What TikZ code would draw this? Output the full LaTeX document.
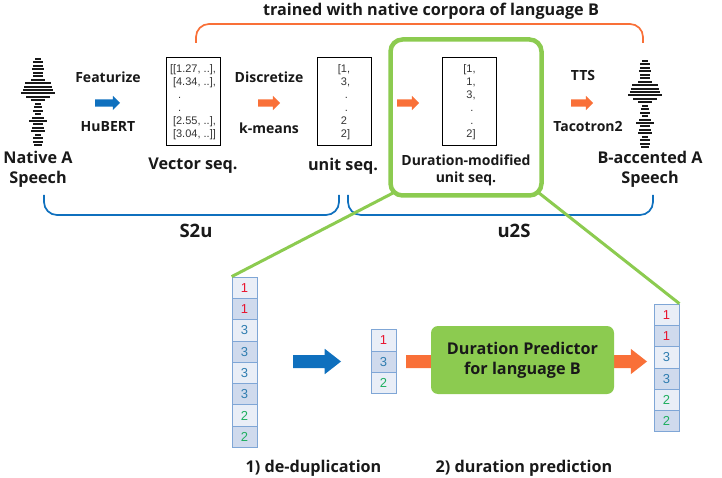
\documentclass[tikz,border=0pt]{standalone}
\usepackage{fontspec}
\setmainfont{Open Sans}
\newfontfamily\boxfont{Liberation Sans}
\usetikzlibrary{shapes.arrows}
\definecolor{mapblue}{HTML}{0F70BE}
\definecolor{maporange}{HTML}{F97038}
\definecolor{mapgreen}{HTML}{8CCB50}
\definecolor{cellline}{HTML}{7FA6D6}
\definecolor{celllight}{HTML}{E9EEF7}
\definecolor{celldark}{HTML}{CFDAED}
\definecolor{unitred}{HTML}{E8152F}
\definecolor{unitblue}{HTML}{2F7DB0}
\definecolor{unitgreen}{HTML}{1FAF5F}
\tikzset{
    label/.style={font=\bfseries\fontsize{14}{17.5}\selectfont, align=center, inner sep=0pt, text=black!90},
    biglabel/.style={font=\bfseries\fontsize{16.2}{20}\selectfont, align=center, inner sep=0pt, text=black!90},
    seglabel/.style={font=\bfseries\fontsize{18.5}{20}\selectfont, align=center, inner sep=0pt, text=black!90},
    seqbox/.style={draw=black, line width=1pt, minimum width=54pt, minimum height=88pt, inner sep=0pt,
        font=\boxfont\fontsize{11}{12.9}\selectfont, align=left, text=black!80},
    blockarrow/.style={single arrow, outer sep=0pt, draw=none, anchor=tail},
    smallarrow/.style={blockarrow, inner sep=3.5pt, single arrow head extend=3.5pt, minimum height=25pt},
    bigarrow/.style={blockarrow, inner sep=6.3pt, single arrow head extend=6.2pt, minimum height=48pt, single arrow tip angle=76},
    cell/.style={draw=cellline, line width=.8pt, minimum width=25pt, minimum height=21.3pt, inner sep=0pt,
        font=\boxfont\fontsize{13}{13}\selectfont},
    bracket/.style={line width=1.7pt, rounded corners=13pt},
    wavepic/.pic={
        \foreach \dy/\hw in {0/3,3.4/5,6.9/5,10.3/6,13.8/5,17.2/5,20.7/7,24.1/13,27.6/14,31/15,34.4/17,37.9/12,41.3/7,
            44.8/3,48.2/4,51.7/5,55.1/3,58.6/6,62/9,65.4/5,68.9/6,72.3/7,75.8/3,79.2/5,82.7/5,86/4}
            \draw[line width=2pt, black!90] (-\hw,\dy)--(\hw,\dy);
    }
}
\begin{document}
\begin{tikzpicture}[x=1pt,y=-1pt]
    \useasboundingbox (0,0) rectangle (722,478);

    %waves
    \pic at (38,59) {wavepic};
    \pic at (645,61) {wavepic};

    %sequence boxes
    \node[seqbox] (vecbox) at (193,102) {[[1.27, ..],\\\hspace{3pt}[4.34, ..],\\\hspace{8pt}.\\\hspace{8pt}.\\\hspace{3pt}[2.55, ..],\\\hspace{3pt}[3.04, ..]]};
    \node[seqbox] (unitbox) at (344,102) {[1,\\\hspace{3pt}3,\\\hspace{7pt}.\\\hspace{7pt}.\\\hspace{3pt}2\\\hspace{3pt}2]};
    \node[seqbox] (modbox) at (469.5,102) {[1,\\\hspace{3pt}1,\\\hspace{3pt}3,\\\hspace{7pt}.\\\hspace{7pt}.\\\hspace{3pt}2]};

    %top labels
    \node[biglabel] (title) at (431,11) {trained with native corpora of language B};
    \node[label] (featurize) at (108,77) {Featurize};
    \node[label] (hubert) at (108,127) {HuBERT};
    \node[label] (discretize) at (269,77) {Discretize};
    \node[label] (kmeans) at (269,128) {k-means};
    \node[label] (tts) at (583,76) {TTS};
    \node[label] (tacotron) at (588,127) {Tacotron2};
    \node[label] (dmlabel) at (466,170.5) {Duration-modified\\unit seq.};
    \node[biglabel] (native) at (38,169) {Native A\\Speech};
    \node[biglabel] (vecseq) at (193,166) {Vector seq.};
    \node[biglabel] (unitseq) at (343,166) {unit seq.};
    \node[biglabel] (accented) at (650,169) {B-accented A\\Speech};
    \node[seglabel] (s2u) at (196,231) {S2u};
    \node[seglabel] (u2s) at (514,231) {u2S};

    %small arrows
    \node[smallarrow, fill=mapblue] (arrfeat) at (95,103) {};
    \node[smallarrow, fill=maporange, minimum height=22pt] (arrdisc) at (258,103) {};
    \node[smallarrow, fill=maporange, minimum height=22pt] (arrmod) at (397,103) {};
    \node[smallarrow, fill=maporange, minimum height=22pt] (arrtts) at (571,103) {};

    %brackets
    \coordinate (s2ua) at (44,195);
    \coordinate (s2ub) at (339,195);
    \coordinate (u2sa) at (348,195);
    \coordinate (u2sb) at (653,195);
    \coordinate (traina) at (196,43);
    \coordinate (trainb) at (643,43);
    \draw[bracket, mapblue] (s2ua)--(s2ua |- 0,215)--(s2ub |- 0,215)--(s2ub);
    \draw[bracket, mapblue] (u2sa)--(u2sa |- 0,215)--(u2sb |- 0,215)--(u2sb);
    \draw[bracket, maporange] (traina)--(traina |- 0,24)--(trainb |- 0,24)--(trainb);

    %columns
    \foreach \v/\c/\f [count=\i] in {1/unitred/celllight,1/unitred/celldark,3/unitblue/celllight,3/unitblue/celldark,3/unitblue/celllight,3/unitblue/celldark,2/unitgreen/celllight,2/unitgreen/celldark}
        \node[cell, fill=\f, text=\c] (cola-\i) at (244.5,266.4+21.3*\i) {\v};
    \foreach \v/\c/\f [count=\i] in {1/unitred/celllight,3/unitblue/celldark,2/unitgreen/celllight}
        \node[cell, fill=\f, text=\c] (colb-\i) at (383.5,319+21.3*\i) {\v};
    \foreach \v/\c/\f [count=\i] in {1/unitred/celllight,1/unitred/celldark,3/unitblue/celllight,3/unitblue/celldark,2/unitgreen/celllight,2/unitgreen/celldark}
        \node[cell, fill=\f, text=\c] (colc-\i) at (666.5,293.4+21.3*\i) {\v};

    %zoom box and lines
    \coordinate (zooma) at (393,193);
    \coordinate (zoomb) at (539,193);
    \draw[mapgreen, line width=3pt] (zooma)--(cola-1.north west);
    \draw[mapgreen, line width=3pt] (zoomb)--(colc-1.north east);
    \node[draw=mapgreen, line width=4.5pt, rounded corners=12pt, minimum width=151pt, minimum height=156pt] (zoombox) at (466,117.5) {};

    %predictor
    \node[bigarrow, fill=mapblue] (arrdedup) at (293,361.5) {};
    \node[bigarrow, fill=maporange, minimum height=33pt] (arrout) at (614,361.5) {};
    \node[bigarrow, fill=maporange, minimum height=64pt] (arrin) at (406,361.5) {};
    \node[biglabel, fill=mapgreen, rounded corners=7pt, minimum width=183pt, minimum height=68pt] (predictor) at (522.5,360) {Duration Predictor\\for language B};

    %bottom labels
    \node[biglabel] (dedup) at (313.5,468) {1) de-duplication};
    \node[biglabel] (durpred) at (524,468) {2) duration prediction};
\end{tikzpicture}
\end{document}
